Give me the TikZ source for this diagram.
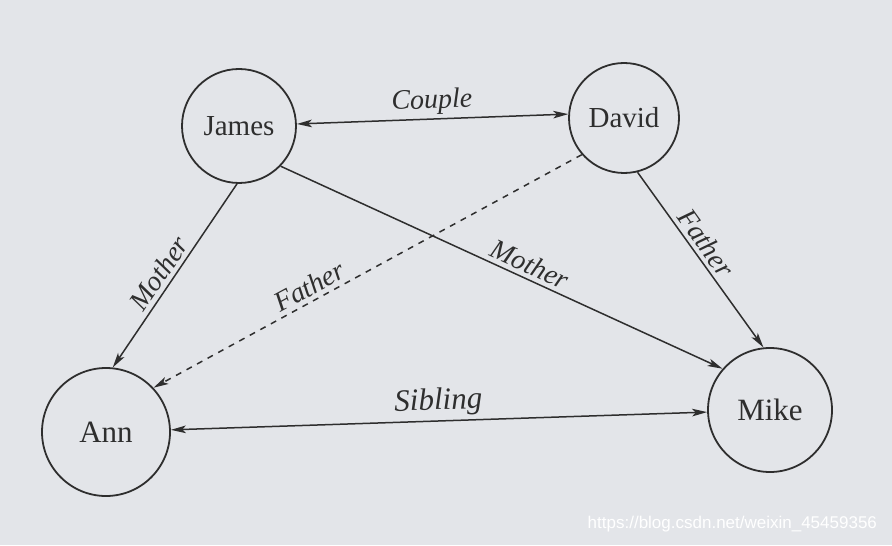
\documentclass[tikz,border=0pt]{standalone}
\usepackage{fontspec}
\setmainfont{Liberation Serif}
\setsansfont{Liberation Sans}
\usetikzlibrary{arrows.meta}
\definecolor{paper}{HTML}{E3E5E9}
\definecolor{ink}{HTML}{2E2E2E}
\tikzset{
  person/.style={draw=ink, circle, line width=0.9pt, inner sep=0pt, text=ink, font=\fontsize{14.5}{16}\selectfont},
  big/.style={font=\fontsize{15.5}{17}\selectfont},
  rel/.style={draw=ink, line width=0.75pt, -{Stealth[length=7.5pt, width=3.8pt, inset=1.8pt]}},
  both/.style={rel, {Stealth[length=7.5pt, width=3.8pt, inset=1.8pt]}-{Stealth[length=7.5pt, width=3.8pt, inset=1.8pt]}},
  lbl/.style={font=\fontsize{14}{16}\selectfont\itshape, text=ink, sloped, above, inner sep=2pt}
}

\begin{document}
\begin{tikzpicture}[x=0.5pt, y=-0.5pt]
\fill[paper] (0,0) rectangle (892,545);
\useasboundingbox (0,0) rectangle (892,545);
% people
\node[person, minimum size=57pt] (james) at (239,126) {James};
\node[person, minimum size=55pt] (david) at (624,118) {David};
\node[person, big, minimum size=64pt] (ann) at (106,432) {Ann};
\node[person, big, minimum size=62pt] (mike) at (770,410) {Mike};
% relations
\draw[both] (james.2) -- node[lbl] {Couple} (david.176);
\draw[both] (ann) -- node[lbl, font=\fontsize{15.5}{17}\selectfont\itshape] {Sibling} (mike);
\draw[rel] (james.268) -- node[lbl, pos=0.53] {Mother} (ann.84);
\draw[rel] (james.316) -- node[lbl, pos=0.55] {Mother} (mike.139);
\draw[rel, dashed] (david.221) -- node[lbl, pos=0.62] {Father} (ann.43);
\draw[rel] (david.284) -- node[lbl, pos=0.45] {Father} (mike.96);
\node[font=\sffamily\fontsize{8.5}{10}\selectfont, text=white, anchor=east] (wm) at (884,524) {https://blog.csdn.net/weixin\_45459356};
\end{tikzpicture}
\end{document}
